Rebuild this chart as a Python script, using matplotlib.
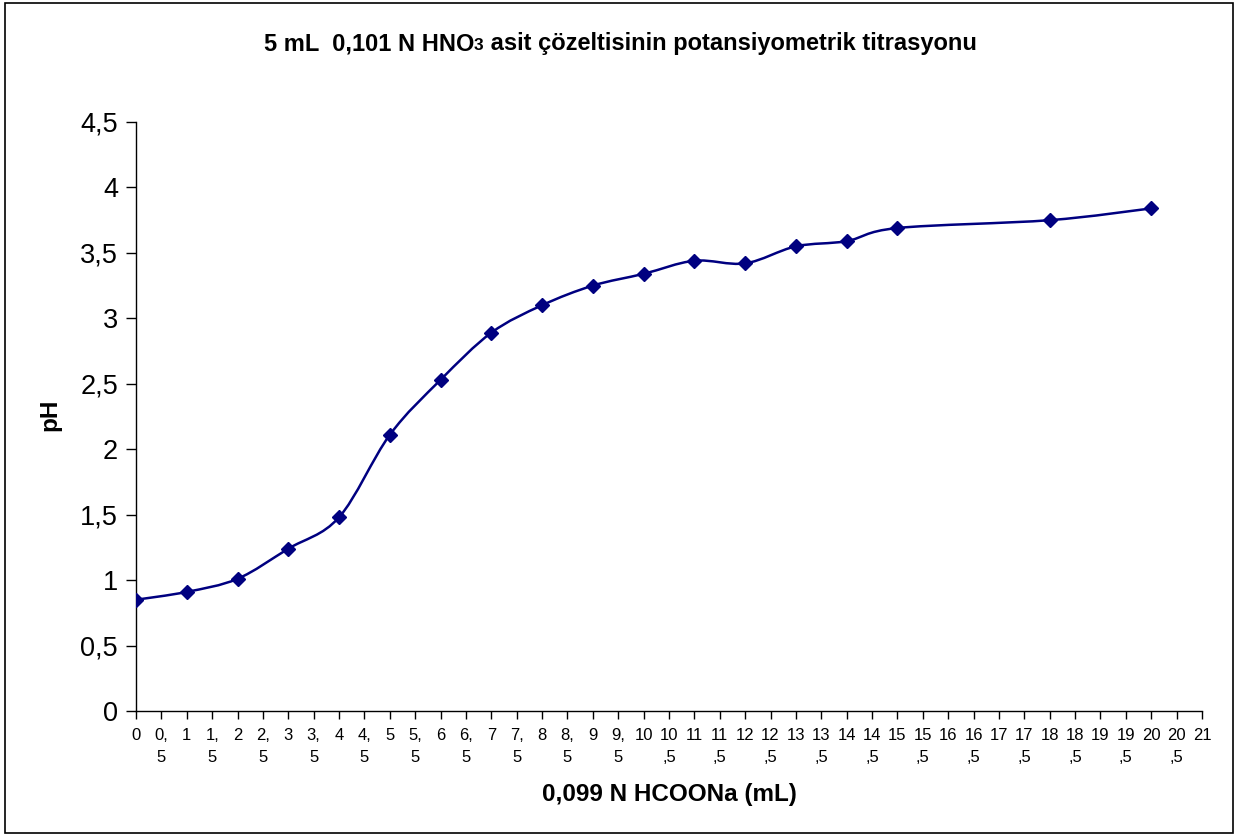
import numpy as np
import matplotlib
matplotlib.use("Agg")
import matplotlib.pyplot as plt
from matplotlib.path import Path
from matplotlib.patches import PathPatch, Rectangle

plt.rcParams['font.family'] = ['Liberation Sans', 'DejaVu Sans']

volume_ml = [0, 1, 2, 3, 4, 5, 6, 7, 8, 9, 10, 11, 12, 13, 14, 15, 18, 20]
ph_values = [0.85, 0.91, 1.01, 1.24, 1.48, 2.11, 2.53, 2.89, 3.10, 3.25,
             3.34, 3.44, 3.42, 3.55, 3.59, 3.69, 3.75, 3.84]
y_tick_labels = ["0", "0,5", "1", "1,5", "2", "2,5", "3", "3,5", "4", "4,5"]
x_tick_labels = []
for i in range(0, 22):
    x_tick_labels.append(str(i))
    if i < 21:
        x_tick_labels.append(f"{i},\n5" if i < 10 else f"{i}\n,5")

title_main = "5 mL  0,101 N HNO"
title_sub = "3"
title_rest = " asit çözeltisinin potansiyometrik titrasyonu"
xlabel = "0,099 N HCOONa (mL)"
ylabel = "pH"

W, H = 1236, 836
fig = plt.figure(figsize=(W / 100, H / 100), dpi=100)
ax = fig.add_axes([136 / W, (H - 711) / H, (1202 - 136) / W, (711 - 122) / H])

color = "#000080"
x = np.array(volume_ml, dtype=float)
y = np.array(ph_values, dtype=float)
# Excel-like smoothed bezier
verts = [(x[0], y[0])]
codes = [Path.MOVETO]
n = len(x)
for i in range(n - 1):
    p0 = np.array([x[max(i - 1, 0)], y[max(i - 1, 0)]])
    p1 = np.array([x[i], y[i]])
    p2 = np.array([x[i + 1], y[i + 1]])
    p3 = np.array([x[min(i + 2, n - 1)], y[min(i + 2, n - 1)]])
    c1 = p1 + (p2 - p0) / 6.0
    c2 = p2 - (p3 - p1) / 6.0
    verts += [tuple(c1), tuple(c2), tuple(p2)]
    codes += [Path.CURVE4] * 3
ax.add_patch(PathPatch(Path(verts, codes), facecolor="none", edgecolor=color, lw=1.8, zorder=2))
ax.plot(x, y, linestyle="none", marker="D", markersize=7.5, color=color, zorder=3)

ax.set_xlim(0, 21)
ax.set_ylim(0, 4.5)
ax.set_yticks(np.arange(0, 4.51, 0.5))
ax.set_yticklabels(y_tick_labels, fontsize=19.5)
ax.set_xticks(np.arange(0, 21.01, 0.5))
ax.set_xticklabels(x_tick_labels, fontsize=12, linespacing=1.6, va="top")
ax.tick_params(axis="y", direction="out", length=7, width=1, pad=6)
ax.tick_params(axis="x", direction="out", length=6, width=1, pad=6)
ax.spines["top"].set_visible(False)
ax.spines["right"].set_visible(False)
for s in ("left", "bottom"):
    ax.spines[s].set_linewidth(1.0)

fig.text(50 / W, 1 - 415 / H, ylabel, fontsize=17.5, fontweight="bold", ha="center", va="center",
         rotation=90)
fig.text(669 / W, 1 - 795 / H, xlabel, fontsize=17.5, fontweight="bold", ha="center", va="center")

# title with smaller "3"
fig.canvas.draw()
r = fig.canvas.get_renderer()
ty = 1 - 50 / H
t1 = fig.text(0, ty, title_main, fontsize=17, fontweight="bold", va="baseline")
t2 = fig.text(0, ty, title_sub, fontsize=12.5, fontweight="bold", va="baseline")
t3 = fig.text(0, ty, title_rest, fontsize=17, fontweight="bold", va="baseline")
w1 = t1.get_window_extent(r).width
w2 = t2.get_window_extent(r).width
w3 = t3.get_window_extent(r).width
total = w1 + w2 + w3
x0 = 620 - total / 2
t1.set_x(x0 / W)
t2.set_x((x0 + w1) / W)
t3.set_x((x0 + w1 + w2) / W)

fig.patches.append(Rectangle((5 / W, 3 / H), 1228 / W, 830 / H, transform=fig.transFigure,
                             fill=False, edgecolor="black", lw=1.2))

fig.savefig("out.png", dpi=100)
